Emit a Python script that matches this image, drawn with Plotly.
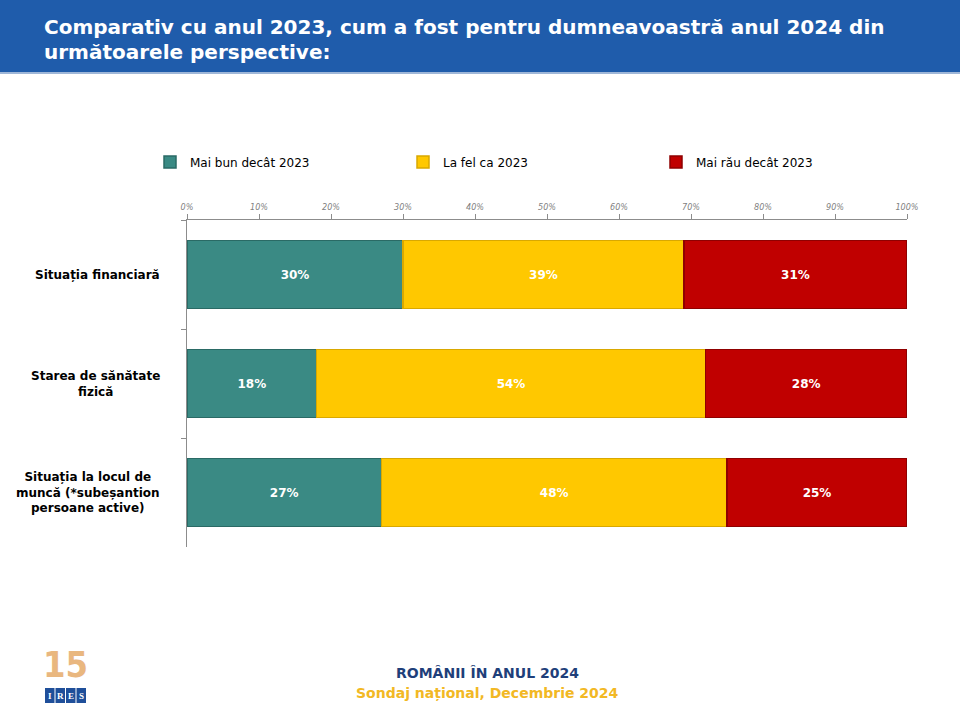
import plotly.graph_objects as go

categories = ["Situația financiară", "Starea de sănătate<br>fizică",
              "Situația la locul de<br>muncă (*subeșantion<br>persoane active)"]
series_names = ["Mai bun decât 2023", "La fel ca 2023", "Mai rău decât 2023"]
better = [0.30, 0.18, 0.27]
same = [0.39, 0.54, 0.48]
worse = [0.31, 0.28, 0.25]
colors = ["#3a8a84", "#ffc800", "#c00000"]
line_colors = ["#2a6a65", "#d9a800", "#8f0000"]
tick_vals = [i / 10 for i in range(11)]
tick_text = [f"{i*10}%" for i in range(11)]
logo_letters = ["I", "R", "E", "S"]

W, H = 960, 720
L, R, T, B = 187, 907, 220, 547


def px(x):
    return (x - L) / (R - L)


def py(y):
    return (B - y) / (B - T)


fig = go.Figure()
for name, vals, c, lc in zip(series_names, [better, same, worse], colors, line_colors):
    fig.add_trace(go.Bar(
        y=categories, x=vals, name=name, orientation="h",
        marker=dict(color=c, line=dict(color=lc, width=1.5)),
        texttemplate="<b>%{x:.0%}</b>", textposition="inside", insidetextanchor="middle",
        textfont=dict(color="white", size=12, family="DejaVu Sans"),
        hoverinfo="skip",
    ))

fig.update_layout(
    width=W, height=H,
    margin=dict(l=L, r=W - R, t=T, b=H - B),
    barmode="stack", bargap=0.376,
    paper_bgcolor="white", plot_bgcolor="white",
    font=dict(family="DejaVu Sans", color="black"),
    showlegend=True,
    legend=dict(orientation="h", x=px(150), y=py(162), xanchor="left", yanchor="middle",
                entrywidth=208, entrywidthmode="pixels",
                font=dict(size=12, family="DejaVu Sans", color="black"),
                itemwidth=30, traceorder="normal"),
    xaxis=dict(side="top", range=[0, 1], tickvals=tick_vals, ticktext=tick_text,
               showgrid=False, zeroline=False, showline=True, linecolor="#8c8c8c",
               ticks="outside", ticklen=5, tickcolor="#8c8c8c",
               tickfont=dict(size=9, color="#7f7f7f", family="DejaVu Sans Condensed, DejaVu Sans", style="italic")),
    yaxis=dict(autorange="reversed", showgrid=False, showline=True, linecolor="#8c8c8c",
               ticks="outside", ticklen=5, tickcolor="#8c8c8c", tickson="boundaries",
               showticklabels=False),
)

shapes = [
    dict(type="rect", xref="paper", yref="paper", x0=px(0), x1=px(W), y0=py(72), y1=py(0),
         fillcolor="#1f5cab", line=dict(width=0), layer="below"),
    dict(type="rect", xref="paper", yref="paper", x0=px(0), x1=px(W), y0=py(74), y1=py(72),
         fillcolor="#9fb7d8", line=dict(width=0), layer="below"),
]
ann = [
    dict(text="<b>Comparativ cu anul 2023, cum a fost pentru dumneavoastră anul 2024 din</b>",
         x=px(42), y=py(27), xanchor="left", yanchor="middle",
         font=dict(size=20, color="white", family="DejaVu Sans")),
    dict(text="<b>următoarele perspective:</b>",
         x=px(42), y=py(52), xanchor="left", yanchor="middle",
         font=dict(size=20, color="white", family="DejaVu Sans")),
    dict(text="<b>ROMÂNII ÎN ANUL 2024</b>", x=px(487), y=py(673), xanchor="center", yanchor="middle",
         font=dict(size=14, color="#1f3f7a", family="DejaVu Sans")),
    dict(text="<b>Sondaj național, Decembrie 2024</b>", x=px(487), y=py(693), xanchor="center", yanchor="middle",
         font=dict(size=14, color="#f2b824", family="DejaVu Sans")),
    dict(text="<b>15</b>", x=px(65), y=py(664), xanchor="center", yanchor="middle",
         font=dict(size=36, color="#e9b77f", family="DejaVu Sans Condensed, DejaVu Sans")),
]
for i, letter in enumerate(logo_letters):
    x0 = 45 + i * 10.5
    shapes.append(dict(type="rect", xref="paper", yref="paper", x0=px(x0), x1=px(x0 + 9.5),
                       y0=py(703), y1=py(688), fillcolor="#1f4f9a", line=dict(width=0)))
    ann.append(dict(text=f"<b>{letter}</b>", x=px(x0 + 4.75), y=py(695.5), xanchor="center", yanchor="middle",
                    font=dict(size=9, color="white", family="Liberation Serif")))

for cat in categories:
    ann.append(dict(text=f"<b>{cat}</b>", x=px(162), y=cat, yref="y", xanchor="right", yanchor="middle",
                    align="center", font=dict(size=12, color="black", family="DejaVu Sans")))

fig.update_layout(shapes=shapes)
fig.update_layout(annotations=[dict(dict(xref="paper", yref="paper", showarrow=False), **a) for a in ann])

fig.write_html("out.html", config={"displayModeBar": False},
               post_script="document.body.style.margin='0';document.body.style.overflow='hidden';")
